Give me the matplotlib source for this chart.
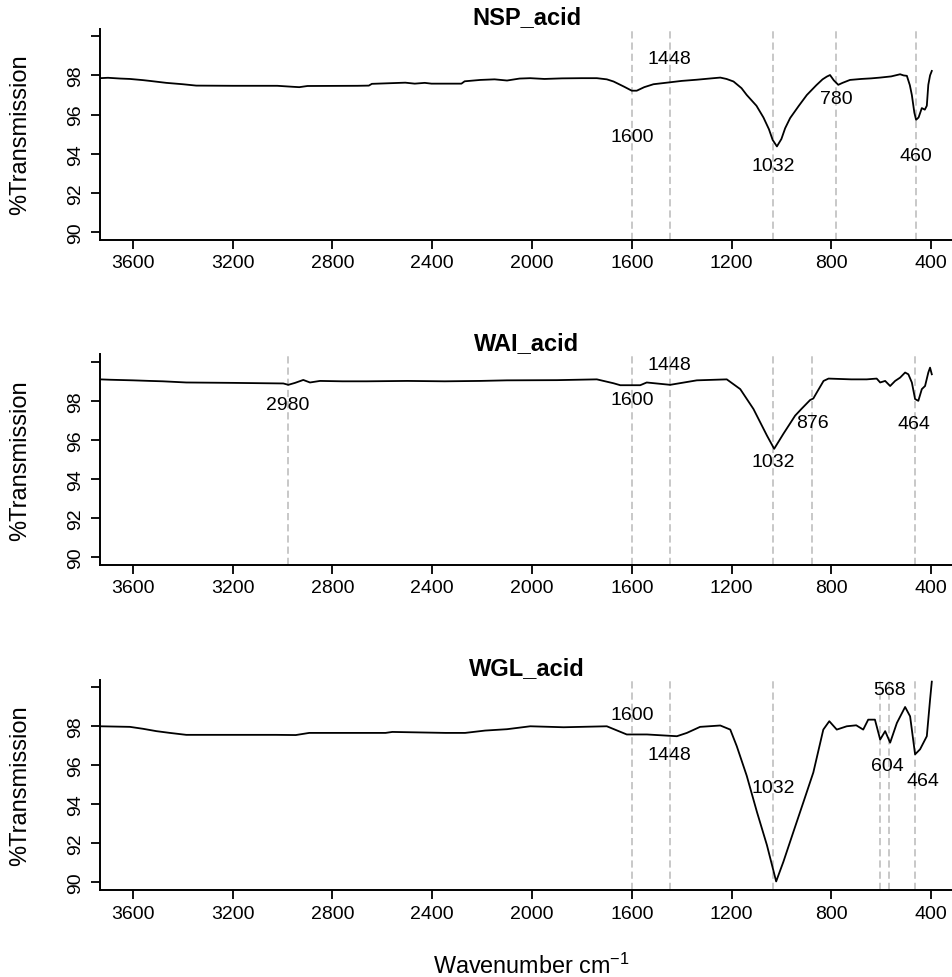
import matplotlib
matplotlib.use("Agg")
import matplotlib.pyplot as plt
import numpy as np

plt.rcParams['font.family'] = ['Liberation Sans', 'DejaVu Sans']
plt.rcParams['mathtext.fontset'] = 'custom'
plt.rcParams['mathtext.rm'] = 'Liberation Sans'
plt.rcParams['mathtext.it'] = 'Liberation Sans:italic'

# --- data (wavenumber cm-1, %T) ---
nsp_wn = [3732, 3700, 3650, 3612, 3560, 3532, 3466, 3400, 3346, 3200, 3021, 2960, 2933,
          2900, 2700, 2654, 2642, 2508, 2470, 2430, 2403, 2283, 2270, 2207, 2150, 2100,
          2050, 2007, 1950, 1880, 1800, 1740, 1700, 1673, 1630, 1600, 1580, 1550, 1513,
          1446, 1400, 1340, 1272, 1245, 1220, 1192, 1160, 1139, 1100, 1072, 1050, 1035,
          1018, 1000, 985, 965, 930, 898, 860, 835, 818, 805, 790, 772, 755, 725, 680,
          640, 604, 560, 524, 510, 497, 485, 477, 467, 460, 450, 437, 425, 417, 411, 404, 397]
nsp_t = [97.86, 97.88, 97.84, 97.82, 97.76, 97.72, 97.62, 97.55, 97.48, 97.47, 97.47, 97.42,
         97.40, 97.46, 97.47, 97.48, 97.57, 97.63, 97.58, 97.62, 97.58, 97.58, 97.70, 97.77,
         97.80, 97.74, 97.84, 97.86, 97.82, 97.85, 97.86, 97.86, 97.80, 97.69, 97.42, 97.22,
         97.22, 97.40, 97.55, 97.65, 97.72, 97.78, 97.86, 97.89, 97.82, 97.69, 97.35, 97.00,
         96.45, 95.85, 95.25, 94.70, 94.37, 94.75, 95.30, 95.82, 96.45, 97.00, 97.50, 97.80,
         97.94, 98.02, 97.75, 97.52, 97.62, 97.77, 97.82, 97.85, 97.89, 97.95, 98.06, 98.00,
         97.98, 97.50, 97.00, 96.10, 95.73, 95.85, 96.33, 96.25, 96.45, 97.52, 98.00, 98.23]

wai_wn = [3732, 3690, 3600, 3532, 3480, 3386, 3200, 2997, 2977, 2950, 2917, 2890, 2850,
          2760, 2663, 2500, 2350, 2208, 2100, 1900, 1740, 1673, 1646, 1566, 1540, 1446,
          1339, 1219, 1165, 1112, 1058, 1029, 992, 945, 920, 885, 872, 858, 831, 811,
          720, 658, 618, 604, 584, 564, 544, 524, 504, 491, 477, 464, 451, 437, 424,
          411, 404, 397]
wai_t = [99.10, 99.08, 99.05, 99.02, 99.00, 98.94, 98.92, 98.89, 98.82, 98.92, 99.07, 98.94,
         99.02, 99.00, 99.00, 99.02, 99.00, 99.02, 99.05, 99.06, 99.10, 98.90, 98.80, 98.80,
         98.94, 98.82, 99.05, 99.10, 98.60, 97.58, 96.22, 95.54, 96.31, 97.24, 97.58, 98.04,
         98.12, 98.43, 99.02, 99.14, 99.10, 99.10, 99.14, 98.94, 99.02, 98.76, 99.02, 99.19,
         99.45, 99.36, 98.94, 98.09, 98.00, 98.60, 98.76, 99.45, 99.70, 99.36]

wgl_wn = [3732, 3612, 3559, 3506, 3452, 3386, 3027, 2947, 2893, 2587, 2560, 2347, 2268,
          2188, 2100, 2007, 1873, 1700, 1620, 1539, 1419, 1379, 1326, 1245, 1205, 1179,
          1139, 1098, 1058, 1021, 992, 952, 912, 872, 832, 808, 778, 738, 700, 672, 652,
          625, 604, 584, 564, 537, 504, 484, 464, 444, 417, 404, 397]
wgl_t = [98.00, 97.97, 97.87, 97.75, 97.66, 97.56, 97.56, 97.55, 97.66, 97.66, 97.71, 97.66,
         97.66, 97.78, 97.85, 98.00, 97.95, 98.00, 97.58, 97.58, 97.49, 97.66, 97.97, 98.04,
         97.83, 96.98, 95.46, 93.60, 91.90, 90.04, 91.05, 92.58, 94.10, 95.63, 97.83, 98.26,
         97.83, 98.00, 98.05, 97.83, 98.34, 98.34, 97.32, 97.75, 97.16, 98.17, 98.99, 98.51,
         96.56, 96.82, 97.49, 99.36, 100.29]

titles = ['NSP_acid', 'WAI_acid', 'WGL_acid']

# marked bands: dashed line positions, label x, label y
nsp_peaks = [1600, 1448, 1032, 780, 460]
nsp_lab_x = [1600, 1448, 1032, 780, 460]
nsp_lab_y = [94.9, 98.88, 93.37, 96.84, 93.93]

wai_peaks = [2980, 1600, 1448, 1032, 876, 464]
wai_lab_x = [2980, 1600, 1448, 1032, 876, 468]
wai_lab_y = [97.8, 98.09, 99.87, 94.87, 96.87, 96.82]

wgl_peaks = [1600, 1448, 1032, 604, 568, 464]
wgl_lab_x = [1600, 1448, 1032, 575, 566, 431]
wgl_lab_y = [98.6, 96.56, 94.87, 95.97, 99.87, 95.2]

spectra = [(nsp_wn, nsp_t, nsp_peaks, nsp_lab_x, nsp_lab_y),
           (wai_wn, wai_t, wai_peaks, wai_lab_x, wai_lab_y),
           (wgl_wn, wgl_t, wgl_peaks, wgl_lab_x, wgl_lab_y)]

W, H = 953, 978
fig = plt.figure(figsize=(W / 100, H / 100), dpi=100)

# axes boxes in pixels: (left, top, bottom)
boxes = [(100, 29.5, 240.7), (100, 355, 565.7), (100, 680.5, 891)]

for (wn, t, peaks, lx, ly), title, (l, top, bot) in zip(spectra, titles, boxes):
    ax = fig.add_axes([l / W, 1 - bot / H, 1 - l / W, (bot - top) / H])
    for p in peaks:
        ax.axvline(p, color='#c4c4c4', lw=1.3, linestyle=(0, (4, 2.2)), zorder=1)
    ax.plot(wn, t, color='black', lw=1.3, zorder=2)
    for p, x, y in zip(peaks, lx, ly):
        ax.text(x, y, str(p), ha='center', va='center', fontsize=14, zorder=3)

    ax.set_xlim(3732, 312)
    ax.set_ylim(89.6, 100.4)
    ax.set_xticks(np.arange(3600, 399, -400))
    ax.set_yticks(np.arange(90, 101, 2))
    ax.set_yticklabels(['90', '92', '94', '96', '98', ''], rotation=90, va='center')
    ax.tick_params(axis='both', labelsize=14, length=6.5, width=1.3, pad=4)
    ax.tick_params(axis='y', pad=5)
    for s in ['top', 'right']:
        ax.spines[s].set_visible(False)
    for s in ['left', 'bottom']:
        ax.spines[s].set_linewidth(1.4)
    ax.set_ylabel('%Transmission', fontsize=17)
    ax.yaxis.set_label_coords(-0.081, 0.5)
    ax.set_title(title, fontsize=17, fontweight='bold', pad=-0.5)

fig.text(531 / W, 1 - 966 / H, 'Wavenumber cm$^{-1}$', ha='center', va='center', fontsize=16.8)

fig.savefig('out.png', dpi=100)
